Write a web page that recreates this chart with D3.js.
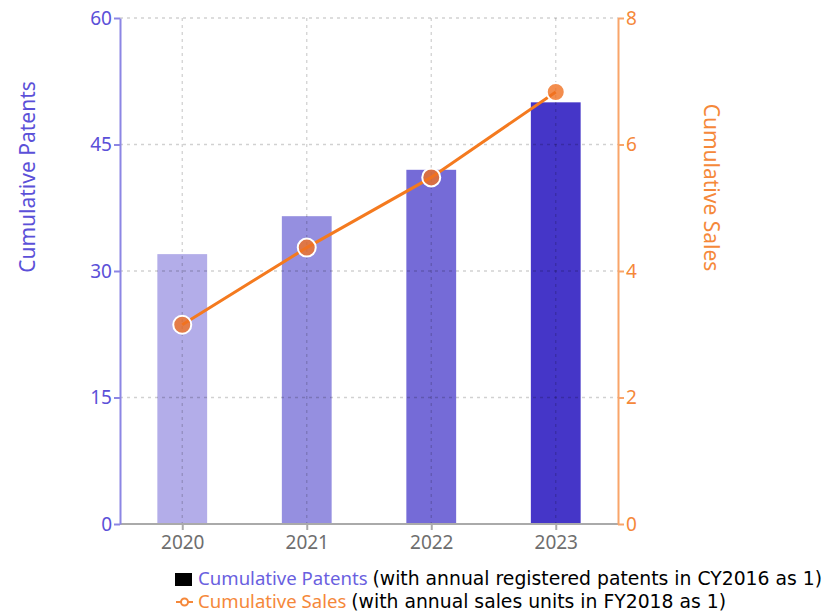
<!DOCTYPE html>
<html><head><meta charset="utf-8">
<script src="https://cdn.jsdelivr.net/npm/d3@7"></script>
<style>body{margin:0;background:#fff}</style>
</head><body>
<svg id="c" width="825" height="613"></svg>
<script>
const years = ["2020","2021","2022","2023"];
const patents = [32, 36.5, 42, 50];
const sales = [3.15, 4.37, 5.48, 6.83];
const barColors = ["#b3ade9","#958fe0","#756bd7","#4536c8"];
const leftTicks = [0,15,30,45,60];
const rightTicks = [0,2,4,6,8];

const svg = d3.select("#c");
const L = 120, R = 618, T = 18, B = 524;
const font = "'Noto Sans', 'Open Sans', sans-serif";

const x = d3.scalePoint().domain(years).range([L, R]).padding(0.5);
const bw = x.step() * 0.4;
const yL = d3.scaleLinear().domain([0,60]).range([B, T]);
const yR = d3.scaleLinear().domain([0,8]).range([B, T]);

// bars
svg.append("g").selectAll("rect").data(years).join("rect")
  .attr("x", d => x(d) - bw/2).attr("width", bw)
  .attr("y", (d,i) => yL(patents[i])).attr("height", (d,i) => B - yL(patents[i]))
  .attr("fill", (d,i) => barColors[i]);

// grid
const grid = svg.append("g").attr("stroke", "rgba(0,0,0,0.18)").attr("stroke-dasharray", "3,4").attr("stroke-width", 1.3);
leftTicks.filter(t => t > 0).forEach(t => {
  grid.append("line").attr("x1", L).attr("x2", R).attr("y1", yL(t)).attr("y2", yL(t));
});
years.forEach(d => {
  grid.append("line").attr("x1", x(d)).attr("x2", x(d)).attr("y1", T).attr("y2", B);
});

// bottom axis
const xa = svg.append("g").attr("transform", `translate(0,${B})`)
  .call(d3.axisBottom(x).tickSize(6).tickSizeOuter(0));
xa.select(".domain").attr("stroke", "#aaa").attr("stroke-width", 2).attr("d", `M${L},0H${R}`);
xa.selectAll(".tick line").attr("stroke", "#aaa").attr("stroke-width", 2);
xa.selectAll(".tick text").attr("fill", "#6e6e6e").attr("font-size", 19).attr("font-family", font).attr("y", 9).attr("dy", "0.85em");

// left axis
const la = svg.append("g").attr("transform", `translate(${L},0)`)
  .call(d3.axisLeft(yL).tickValues(leftTicks).tickSize(6).tickSizeOuter(0));
la.select(".domain").attr("stroke", "#8c86e4").attr("stroke-width", 2);
la.selectAll(".tick line").attr("stroke", "#8c86e4").attr("stroke-width", 2);
la.selectAll(".tick text").attr("fill", "#5b50d8").attr("font-size", 19).attr("font-family", font).attr("x", -8);

// right axis
const ra = svg.append("g").attr("transform", `translate(${R},0)`)
  .call(d3.axisRight(yR).tickValues(rightTicks).tickSize(6).tickSizeOuter(0));
ra.select(".domain").attr("stroke", "#f9a56a").attr("stroke-width", 2);
ra.selectAll(".tick line").attr("stroke", "#f9a56a").attr("stroke-width", 2);
ra.selectAll(".tick text").attr("fill", "#f5883a").attr("font-size", 19).attr("font-family", font).attr("x", 8);

// axis titles
svg.append("text").attr("transform", `translate(35,${(82+272)/2}) rotate(-90)`)
  .attr("text-anchor", "middle").attr("fill", "#5b50d8").attr("font-size", 21).attr("font-family", font)
  .text("Cumulative Patents");
svg.append("text").attr("transform", `translate(704,${(105+270)/2}) rotate(90)`)
  .attr("text-anchor", "middle").attr("fill", "#f5883a").attr("font-size", 21).attr("font-family", font)
  .text("Cumulative Sales");

// line
const line = d3.line().x(d => x(d.y)).y(d => yR(d.v));
const pts = years.map((y,i) => ({y, v: sales[i]}));
svg.append("path").datum(pts).attr("d", line).attr("fill", "none").attr("stroke", "#f47a1f").attr("stroke-width", 3);
svg.append("g").selectAll("circle").data(pts).join("circle")
  .attr("cx", d => x(d.y)).attr("cy", d => yR(d.v)).attr("r", 9)
  .attr("fill", "#f07020").attr("fill-opacity", 0.8).attr("stroke", "#fff").attr("stroke-width", 2);

// legend
const lg = svg.append("g");
lg.append("rect").attr("x", 175).attr("y", 573).attr("width", 17).attr("height", 13).attr("fill", "#000");
const t1 = lg.append("text").attr("x", 198).attr("y", 585).attr("font-size", 18.6);
t1.append("tspan").attr("font-family", font).attr("fill", "#6a5fe0").text("Cumulative Patents ");
t1.append("tspan").attr("font-family", "'DejaVu Sans', Verdana, sans-serif").attr("font-size", 18.8).attr("fill", "#000").text("(with annual registered patents in CY2016 as 1)");
lg.append("line").attr("x1", 176).attr("x2", 193).attr("y1", 602).attr("y2", 602).attr("stroke", "#f5883a").attr("stroke-width", 2);
lg.append("circle").attr("cx", 184.5).attr("cy", 602).attr("r", 3.5).attr("fill", "#fff").attr("stroke", "#f5883a").attr("stroke-width", 2);
const t2 = lg.append("text").attr("x", 198).attr("y", 608).attr("font-size", 18.6);
t2.append("tspan").attr("font-family", font).attr("fill", "#f5883a").text("Cumulative Sales ");
t2.append("tspan").attr("font-family", "'DejaVu Sans', Verdana, sans-serif").attr("font-size", 18.8).attr("fill", "#000").text("(with annual sales units in FY2018 as 1)");
</script>
</body></html>
